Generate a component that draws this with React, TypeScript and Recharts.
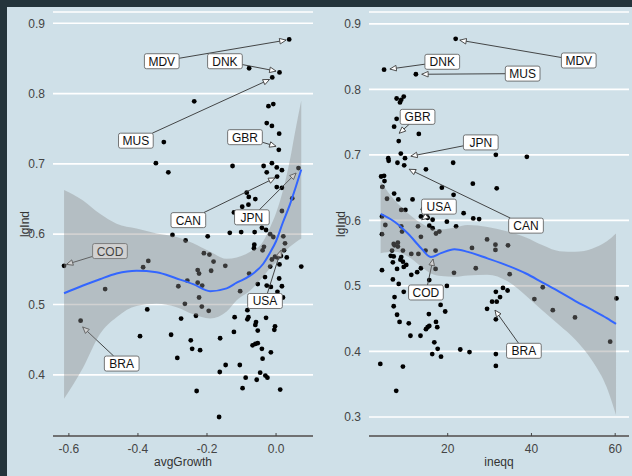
import React from 'react';
import {
  ComposedChart,
  Scatter,
  Area,
  Line,
  XAxis,
  YAxis,
  CartesianGrid,
  ReferenceLine,
} from 'recharts';

const FONT = '"Liberation Sans", Arial, Helvetica, sans-serif';

// ─── DATA: lgInd vs avgGrowth ────────────────────────────────────────────────
const growthPoints: [number, number][] = [
  [0.038, 0.877], [0.01, 0.83], [-0.078, 0.836], [-0.011, 0.823], [-0.237, 0.789],
  [-0.022, 0.782], [-0.008, 0.785], [-0.027, 0.758], [-0.012, 0.754], [0.009, 0.743],
  [0.008, 0.72], [-0.325, 0.731], [-0.348, 0.701], [-0.312, 0.688], [-0.126, 0.697],
  [-0.036, 0.697], [-0.012, 0.701], [-0.027, 0.688], [0.002, 0.695], [0.017, 0.691],
  [0.003, 0.682], [0.065, 0.694], [0.002, 0.667], [0.017, 0.666], [0.047, 0.651],
  [0.017, 0.633], [-0.085, 0.659], [-0.079, 0.653], [-0.06, 0.65], [-0.08, 0.642],
  [-0.098, 0.639], [-0.122, 0.631], [-0.3, 0.599], [-0.262, 0.591], [-0.198, 0.597],
  [-0.134, 0.602], [-0.101, 0.603], [-0.062, 0.603], [-0.041, 0.609], [-0.029, 0.606],
  [-0.017, 0.6], [-0.008, 0.596], [0.021, 0.597], [-0.063, 0.585], [-0.064, 0.58],
  [-0.035, 0.582], [-0.039, 0.577], [0.026, 0.587], [0.023, 0.577], [-0.209, 0.573],
  [-0.193, 0.571], [-0.181, 0.561], [-0.147, 0.555], [-0.227, 0.549], [-0.223, 0.544],
  [-0.188, 0.548], [-0.283, 0.526], [-0.257, 0.534], [-0.227, 0.531], [-0.214, 0.527],
  [-0.223, 0.51], [-0.264, 0.501], [-0.215, 0.497], [-0.195, 0.491], [-0.104, 0.519],
  [-0.078, 0.544], [-0.053, 0.529], [-0.032, 0.539], [-0.027, 0.527], [-0.015, 0.525],
  [-0.017, 0.554], [-0.012, 0.564], [-0.003, 0.568], [0.004, 0.567], [0.014, 0.569],
  [0.031, 0.567], [0.01, 0.557], [0.073, 0.554], [0.009, 0.537], [0.017, 0.526],
  [0.004, 0.518], [0.02, 0.51], [-0.083, 0.492], [-0.08, 0.482], [-0.083, 0.479],
  [-0.029, 0.481], [-0.12, 0.482], [-0.058, 0.475], [-0.06, 0.471], [-0.053, 0.463],
  [-0.003, 0.469], [-0.005, 0.464], [-0.122, 0.461], [-0.232, 0.484], [-0.275, 0.48],
  [-0.304, 0.457], [-0.247, 0.449], [-0.243, 0.437], [-0.22, 0.435], [-0.286, 0.424],
  [-0.162, 0.452], [-0.068, 0.442], [-0.06, 0.444], [-0.053, 0.445], [-0.041, 0.437],
  [-0.015, 0.432], [-0.039, 0.423], [-0.146, 0.414], [-0.105, 0.414], [-0.163, 0.404],
  [-0.046, 0.403], [-0.031, 0.399], [-0.025, 0.396], [-0.088, 0.396], [-0.056, 0.393],
  [-0.097, 0.381], [0.012, 0.379], [-0.23, 0.377], [-0.165, 0.34], [-0.614, 0.555],
  [-0.495, 0.522], [-0.385, 0.553], [-0.37, 0.562], [-0.373, 0.493], [-0.566, 0.477],
  [-0.394, 0.455],
];

// loess fit and its confidence band
const growthFitX = [-0.614, -0.559, -0.51, -0.462, -0.404, -0.346, -0.288, -0.24, -0.191, -0.143, -0.114, -0.075, -0.037, -0.017, 0, 0.02, 0.04, 0.055, 0.073];
const growthFit = [0.516, 0.527, 0.536, 0.544, 0.548, 0.546, 0.537, 0.529, 0.519, 0.523, 0.531, 0.541, 0.558, 0.574, 0.59, 0.617, 0.642, 0.664, 0.692];
const growthLo = [0.366, 0.41, 0.458, 0.482, 0.498, 0.501, 0.496, 0.486, 0.48, 0.49, 0.506, 0.52, 0.54, 0.552, 0.56, 0.572, 0.582, 0.588, 0.594];
const growthHi = [0.663, 0.648, 0.629, 0.615, 0.608, 0.601, 0.596, 0.587, 0.575, 0.565, 0.567, 0.575, 0.59, 0.61, 0.63, 0.662, 0.705, 0.745, 0.79];

const growthLabels = [
  { name: 'MDV', at: [-0.331, 0.846], tip: [0.029, 0.876] },
  { name: 'DNK', at: [-0.148, 0.846], tip: [0.0, 0.832] },
  { name: 'MUS', at: [-0.406, 0.733], tip: [-0.019, 0.82] },
  { name: 'GBR', at: [-0.09, 0.738], tip: [0.0, 0.725] },
  { name: 'CAN', at: [-0.254, 0.62], tip: [-0.003, 0.68] },
  { name: 'JPN', at: [-0.07, 0.624], tip: [0.058, 0.687] },
  { name: 'COD', at: [-0.481, 0.576], tip: [-0.607, 0.557] },
  { name: 'BRA', at: [-0.447, 0.416], tip: [-0.56, 0.468] },
  { name: 'USA', at: [-0.032, 0.505], tip: [0.014, 0.577] },
];

// ─── DATA: lgInd vs ineqq ────────────────────────────────────────────────────
const ineqPoints: [number, number][] = [
  [21.9, 0.877], [4.8, 0.83], [12.4, 0.823], [7.8, 0.786], [8.9, 0.784], [9.5, 0.789],
  [8.6, 0.78], [7.8, 0.755], [7.2, 0.743], [8.3, 0.721], [13.1, 0.732], [8.8, 0.702],
  [5.8, 0.695], [5.9, 0.691], [9.8, 0.695], [8.0, 0.688], [9.6, 0.684], [14.8, 0.678],
  [21.3, 0.688], [31.5, 0.7], [38.9, 0.697], [26.0, 0.656], [31.7, 0.649], [4.1, 0.667],
  [4.8, 0.668], [4.9, 0.66], [4.4, 0.651], [7.2, 0.641], [8.2, 0.632], [5.5, 0.633],
  [11.6, 0.632], [9.9, 0.616], [18.6, 0.65], [21.4, 0.639], [16.0, 0.622], [14.1, 0.617],
  [14.5, 0.613], [14.8, 0.608], [13.6, 0.606], [15.2, 0.604], [16.4, 0.601], [19.8, 0.598],
  [23.8, 0.611], [26.1, 0.603], [27.5, 0.602], [4.3, 0.606], [8.9, 0.616], [5.1, 0.593],
  [4.3, 0.579], [17.2, 0.58], [18.0, 0.583], [22.0, 0.591], [15.6, 0.592], [16.4, 0.588],
  [8.9, 0.591], [9.1, 0.583], [12.9, 0.591], [13.6, 0.575], [7.1, 0.564], [8.1, 0.566],
  [7.3, 0.562], [8.1, 0.56], [6.7, 0.554], [6.4, 0.546], [7.1, 0.545], [9.3, 0.554],
  [8.9, 0.544], [8.7, 0.54], [9.3, 0.537], [10.1, 0.532], [9.5, 0.529], [6.9, 0.536],
  [11.3, 0.549], [13.0, 0.549], [14.7, 0.554], [17.1, 0.554], [13.6, 0.527], [17.1, 0.526],
  [7.9, 0.526], [4.3, 0.524], [11.3, 0.517], [12.7, 0.521], [21.5, 0.52], [15.6, 0.509],
  [6.9, 0.51], [8.3, 0.503], [9.5, 0.491], [19.8, 0.5], [7.3, 0.483], [7.1, 0.469],
  [18.3, 0.471], [19.4, 0.461], [7.9, 0.456], [8.5, 0.445], [15.5, 0.457], [10.7, 0.443],
  [17.2, 0.445], [17.5, 0.437], [14.8, 0.434], [15.2, 0.437], [15.6, 0.439], [11.1, 0.424],
  [13.5, 0.424], [16.8, 0.414], [17.6, 0.404], [16.3, 0.396], [18.4, 0.392], [23.0, 0.403],
  [25.2, 0.399], [3.9, 0.381], [9.3, 0.377], [7.7, 0.34], [29.4, 0.571], [31.4, 0.563],
  [31.4, 0.555], [34.4, 0.562], [25.8, 0.558], [26.7, 0.527], [34.8, 0.518], [42.7, 0.498],
  [33.2, 0.497], [34.3, 0.493], [31.5, 0.491], [32.5, 0.483], [30.6, 0.476], [31.7, 0.476],
  [29.4, 0.465], [31.5, 0.449], [40.7, 0.48], [45.1, 0.463], [50.4, 0.452], [60.3, 0.481],
  [58.8, 0.415], [31.5, 0.396], [31.5, 0.378],
];

const ineqFitX = [3.98, 7.3, 10.5, 13.6, 16.0, 18.4, 21.6, 24.8, 29.5, 34.3, 38.7, 42.7, 46.7, 50.5, 54.6, 58.0, 60.2];
const ineqFit = [0.61, 0.598, 0.58, 0.558, 0.544, 0.55, 0.556, 0.552, 0.542, 0.531, 0.519, 0.505, 0.491, 0.477, 0.463, 0.451, 0.442];
const ineqLo = [0.55, 0.552, 0.545, 0.53, 0.519, 0.515, 0.514, 0.516, 0.517, 0.507, 0.485, 0.462, 0.44, 0.418, 0.385, 0.345, 0.303];
const ineqHi = [0.659, 0.631, 0.611, 0.596, 0.588, 0.586, 0.589, 0.593, 0.59, 0.583, 0.574, 0.562, 0.553, 0.552, 0.557, 0.568, 0.58];

const ineqLabels = [
  { name: 'MDV', at: [51.3, 0.844], tip: [22.9, 0.875] },
  { name: 'DNK', at: [18.7, 0.842], tip: [6.2, 0.831] },
  { name: 'MUS', at: [37.9, 0.824], tip: [13.8, 0.823] },
  { name: 'GBR', at: [12.8, 0.758], tip: [8.4, 0.733] },
  { name: 'JPN', at: [27.9, 0.719], tip: [11.2, 0.698] },
  { name: 'CAN', at: [38.7, 0.592], tip: [10.8, 0.678] },
  { name: 'USA', at: [17.9, 0.621], tip: [13.8, 0.601] },
  { name: 'COD', at: [14.8, 0.49], tip: [16.5, 0.541] },
  { name: 'BRA', at: [38.2, 0.401], tip: [31.3, 0.463] },
];

// ─── LABEL BOX WITH ARROW (drawn from a reference segment) ───────────────────
function LabelArrow(props: any) {
  const { x1, y1, x2, y2, name } = props;
  const w = 8 + name.length * 8.9;
  const h = 15;
  const dx = x2 - x1;
  const dy = y2 - y1;
  const tx = dx !== 0 ? w / 2 / Math.abs(dx) : Infinity;
  const ty = dy !== 0 ? h / 2 / Math.abs(dy) : Infinity;
  const t = Math.min(tx, ty);
  return (
    <g>
      {t < 1 && (
        <line
          x1={x1 + dx * t}
          y1={y1 + dy * t}
          x2={x2}
          y2={y2}
          stroke="#333"
          strokeWidth={0.9}
          markerEnd="url(#arrowHead)"
        />
      )}
      <rect x={x1 - w / 2} y={y1 - h / 2} width={w} height={h} rx={2} fill="#fff" stroke="#555" strokeWidth={0.8} />
      <text x={x1} y={y1 + 0.5} textAnchor="middle" dominantBaseline="central" fontSize={12} fontFamily={FONT} fill="#111">
        {name}
      </text>
    </g>
  );
}

const renderYLabel = (props: any) => {
  const vb = props && props.viewBox ? props.viewBox : { x: 0, y: 12, width: 53, height: 424 };
  const cx = vb.x + 24.5;
  const cy = vb.y + vb.height / 2;
  return (
    <text
      x={cx}
      y={cy}
      transform={`rotate(-90 ${cx} ${cy})`}
      textAnchor="middle"
      dominantBaseline="central"
      fill="#333"
      fontSize={12}
      fontFamily={FONT}
    >
      lgInd
    </text>
  );
};

const Dot = (p: any) => <circle cx={p.cx} cy={p.cy} r={2.4} fill="#000" />;

interface PanelProps {
  points: [number, number][];
  fitX: number[];
  fit: number[];
  lo: number[];
  hi: number[];
  labels: Array<{ name: string; at: number[]; tip: number[] }>;
  xDomain: [number, number];
  xTicks: number[];
  yDomain: [number, number];
  yTicks: number[];
  xLabel: string;
  xFmt: (v: number) => string;
}

function Panel({ points, fitX, fit, lo, hi, labels, xDomain, xTicks, yDomain, yTicks, xLabel, xFmt }: PanelProps) {
  const fitRows = fitX.map((x, i) => ({ x, fit: fit[i], band: [lo[i], hi[i]] }));
  const pts = points.map(([x, y]) => ({ x, y }));
  const tickStyle = { fill: '#444', fontSize: 12, fontFamily: FONT };

  return (
    <ComposedChart width={316} height={476} data={fitRows} margin={{ top: 12, right: 3, left: 0, bottom: 0 }}>
      <CartesianGrid vertical={false} stroke="#fff" strokeWidth={1.7} />
      <XAxis
        dataKey="x"
        type="number"
        domain={xDomain}
        ticks={xTicks}
        allowDataOverflow
        tickFormatter={xFmt}
        height={40}
        axisLine={{ stroke: '#444', strokeWidth: 1.3 }}
        tickLine={{ stroke: '#444', strokeWidth: 1 }}
        tickSize={-3}
        tickMargin={11}
        tick={tickStyle}
        label={{ value: xLabel, position: 'insideBottom', offset: 10, fill: '#333', fontSize: 12, fontFamily: FONT }}
      />
      <YAxis
        type="number"
        domain={yDomain}
        ticks={yTicks}
        allowDataOverflow
        width={53}
        axisLine={false}
        tickLine={false}
        tick={tickStyle}
        tickFormatter={(v: number) => v.toFixed(1)}
        label={renderYLabel}
      />
      <Scatter data={pts} dataKey="y" shape={Dot} isAnimationActive={false} zIndex={300} />
      {labels.map((l) => (
        <ReferenceLine
          key={l.name}
          zIndex={350}
          segment={[
            { x: l.at[0], y: l.at[1] },
            { x: l.tip[0], y: l.tip[1] },
          ]}
          shape={(p: any) => <LabelArrow {...p} name={l.name} />}
        />
      ))}
      <Area
        dataKey="band"
        type="monotone"
        fill="#8c8c8c"
        fillOpacity={0.4}
        stroke="none"
        isAnimationActive={false}
        zIndex={450}
      />
      <Line
        dataKey="fit"
        type="monotone"
        stroke="#3366ff"
        strokeWidth={2}
        dot={false}
        isAnimationActive={false}
        zIndex={460}
      />
    </ComposedChart>
  );
}

export default function App() {
  return (
    <div style={{ position: 'fixed', left: 0, top: 0, width: 632, height: 476, background: '#24343b', fontFamily: FONT }}>
      <svg width={0} height={0} style={{ position: 'absolute' }}>
        <defs>
          <marker
            id="arrowHead"
            viewBox="0 0 10 10"
            refX={9}
            refY={5}
            markerWidth={8}
            markerHeight={8}
            markerUnits="userSpaceOnUse"
            orient="auto"
          >
            <path d="M1,1.5 L9,5 L1,8.5 Z" fill="#fff" stroke="#444" strokeWidth={1.1} />
          </marker>
        </defs>
      </svg>
      <div style={{ position: 'absolute', left: 7, top: 7, width: 625, height: 469, background: '#cfe0e8' }} />
      <div style={{ position: 'absolute', left: 0, top: 0 }}>
        <Panel
          points={growthPoints}
          fitX={growthFitX}
          fit={growthFit}
          lo={growthLo}
          hi={growthHi}
          labels={growthLabels}
          xDomain={[-0.646, 0.107]}
          xTicks={[-0.6, -0.4, -0.2, 0]}
          yDomain={[0.313, 0.916]}
          yTicks={[0.4, 0.5, 0.6, 0.7, 0.8, 0.9]}
          xLabel="avgGrowth"
          xFmt={(v) => v.toFixed(1)}
        />
      </div>
      <div style={{ position: 'absolute', left: 316, top: 0 }}>
        <Panel
          points={ineqPoints}
          fitX={ineqFitX}
          fit={ineqFit}
          lo={ineqLo}
          hi={ineqHi}
          labels={ineqLabels}
          xDomain={[1.2, 63.3]}
          xTicks={[20, 40, 60]}
          yDomain={[0.271, 0.918]}
          yTicks={[0.3, 0.4, 0.5, 0.6, 0.7, 0.8, 0.9]}
          xLabel="ineqq"
          xFmt={(v) => String(v)}
        />
      </div>
    </div>
  );
}
